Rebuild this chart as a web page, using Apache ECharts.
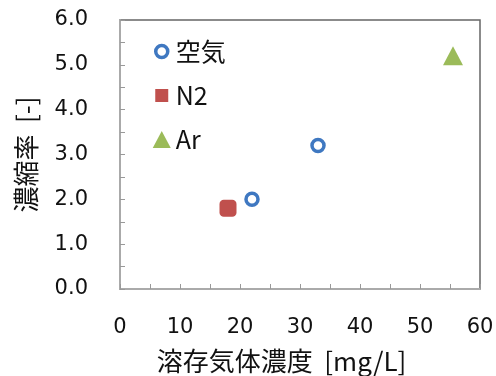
<!DOCTYPE html>
<html><head><meta charset="utf-8">
<script src="https://cdn.jsdelivr.net/npm/echarts@6/dist/echarts.min.js"></script>
<style>html,body{margin:0;padding:0;background:#fff}#c{width:496px;height:376px}</style>
</head><body><div id="c"></div>
<script>
var seriesNames = ['空気', 'N2', 'Ar'];
var airData = [[22, 2.0], [33, 3.2]];
var n2Data = [[18, 1.8]];
var arData = [[55.5, 5.2]];
var xTickLabels = ['0','10','20','30','40','50','60'];
var yTickLabels = ['0.0','1.0','2.0','3.0','4.0','5.0','6.0'];

var font = '"DejaVu Sans",sans-serif';
var jp = '"Noto Sans CJK JP",sans-serif';
var chart = echarts.init(document.getElementById('c'));
chart.setOption({
  animation: false,
  grid: {left: 120, top: 20, right: 16, bottom: 87, outerBoundsMode: 'none', containLabel: false,
    show: true, borderColor: '#666', borderWidth: 1.5, backgroundColor: 'transparent'},
  legend: {
    orient: 'vertical', left: 146, top: 34, itemGap: 19,
    itemWidth: 18, itemHeight: 17, itemTextGap: 6,
    textStyle: {fontSize: 25, color: '#111', fontFamily: jp},
    data: [
      {name: seriesNames[0], icon: 'path://M0,0M18,17M9,2.5A6,6 0 1,1 8.99,2.5Z', itemStyle: {borderWidth: 3.5}},
      {name: seriesNames[1], icon: 'path://M0,0M18,17M2.5,2H15.5V15H2.5Z'},
      {name: seriesNames[2], icon: 'triangle'}
    ]
  },
  xAxis: [{
    type: 'value', min: 0, max: 60, interval: 5,
    name: '溶存気体濃度  [mg/L]', nameLocation: 'middle', nameGap: 59,
    nameTextStyle: {fontSize: 26, color: '#111', fontFamily: jp, padding: [0, 37, 0, 0]},
    axisLine: {show: true, lineStyle: {color: '#aaa', width: 2}},
    axisTick: {show: true, inside: true, length: 5, lineStyle: {color: '#999'}},
    axisLabel: {margin: 28, fontSize: 21, color: '#111', fontFamily: font,
      formatter: function (v) { var i = xTickLabels.indexOf(String(v)); return i >= 0 ? xTickLabels[i] : ''; }},
    splitLine: {show: false}
  }],
  yAxis: [{
    type: 'value', min: 0, max: 6, interval: 0.5,
    name: '濃縮率  [-]', nameLocation: 'middle', nameGap: 81,
    nameTextStyle: {fontSize: 26, color: '#111', fontFamily: jp},
    axisLine: {show: true, lineStyle: {color: '#aaa', width: 2}},
    axisTick: {show: true, inside: true, length: 5, lineStyle: {color: '#999'}},
    axisLabel: {margin: 32, fontSize: 21, color: '#111', fontFamily: font,
      formatter: function (v) { var s = v.toFixed(1); return yTickLabels.indexOf(s) >= 0 && Math.abs(v - Math.round(v)) < 1e-9 ? s : ''; }},
    splitLine: {show: false}
  }],
  series: [{
    name: seriesNames[0], type: 'scatter', data: airData,
    symbol: 'circle', symbolSize: 12,
    itemStyle: {color: '#fff', borderColor: '#3F78C1', borderWidth: 3.5, opacity: 1}
  }, {
    name: seriesNames[1], type: 'scatter', data: n2Data,
    symbol: 'roundRect', symbolSize: 17,
    itemStyle: {color: '#C0504D', opacity: 1}
  }, {
    name: seriesNames[2], type: 'scatter', data: arData,
    symbol: 'triangle', symbolSize: [20, 19],
    itemStyle: {color: '#9BBB59', opacity: 1}
  }]
});
</script></body></html>
